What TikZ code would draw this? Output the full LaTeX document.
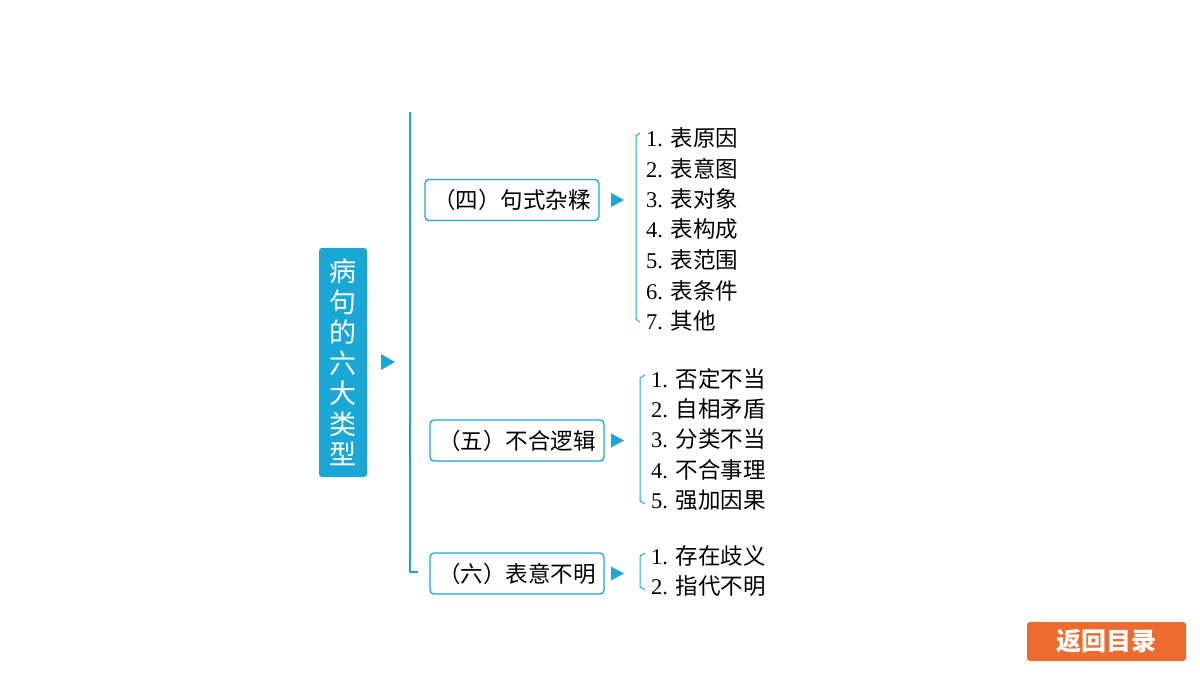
\documentclass[tikz,border=0pt]{standalone}
\usepackage{fontspec}
\setmainfont{Liberation Serif}
\newfontfamily\cjk{Noto Sans CJK SC}
\usetikzlibrary{positioning}
\definecolor{sky}{HTML}{1AA7D6}
\definecolor{btn}{HTML}{EE6B2F}
\begin{document}
\begin{tikzpicture}[x=1pt,y=-1pt,
    cat/.style={rectangle, rounded corners=4pt, draw=sky, line width=1.3pt, minimum width=174pt, minimum height=41pt, inner sep=0pt, font=\fontsize{22.5}{22.5}\cjk},
    item/.style={anchor=west, inner sep=0pt, font=\fontsize{22.5}{22.5}\selectfont},
    tri/.style={fill=sky},
    brace/.style={draw=sky, line width=1pt}
]
    \useasboundingbox (0,0) rectangle (1200,675);
    % title
    \node[fill=sky, rounded corners=3pt, minimum width=48pt, minimum height=229pt, text=white, align=center, font=\fontsize{27}{30.5}\cjk] (title) at (343,362.5) {病\\句\\的\\六\\大\\类\\型};
    \fill[tri] (381,354) -- (395,362) -- (381,370) -- cycle;
    % trunk
    \coordinate (top) at (410,112);
    \coordinate (bot) at (410,572);
    \draw[draw=sky, line width=1.3pt] (top) -- (bot) -- ++(8,0);
    % categories
    \node[cat] (four) at (512,200) {（四）句式杂糅};
    \node[cat] (five) at (517,440.5) {（五）不合逻辑};
    \node[cat] (six) at (517,573.5) {（六）表意不明};
    \foreach \y in {200,440.5,573.5}
        \fill[tri] (611,\y-7) -- (624,\y) -- (611,\y+7) -- cycle;
    % lists
    \foreach \t [count=\i] in {表原因,表意图,表对象,表构成,表范围,表条件,其他}
        \node[item] (a\i) at (646,107.5+30.5*\i) {\i. {\cjk\t}};
    \draw[brace] (640,133) -- (636,136) -- (636,319) -- (640,322);
    \foreach \t [count=\i] in {否定不当,自相矛盾,分类不当,不合事理,强加因果}
        \node[item] (b\i) at (651,348.5+30.3*\i) {\i. {\cjk\t}};
    \draw[brace] (645,375) -- (640,378) -- (640,501) -- (645,504);
    \foreach \t [count=\i] in {存在歧义,指代不明}
        \node[item] (c\i) at (651,525.5+30.5*\i) {\i. {\cjk\t}};
    \draw[brace] (645,553) -- (640,556) -- (640,587) -- (645,590);
    % button
    \node[fill=btn, rounded corners=3pt, minimum width=159pt, minimum height=39pt, text=white, font=\fontsize{25}{25}\cjk\bfseries] (back) at (1106.5,641.5) {返回目录};
\end{tikzpicture}
\end{document}
